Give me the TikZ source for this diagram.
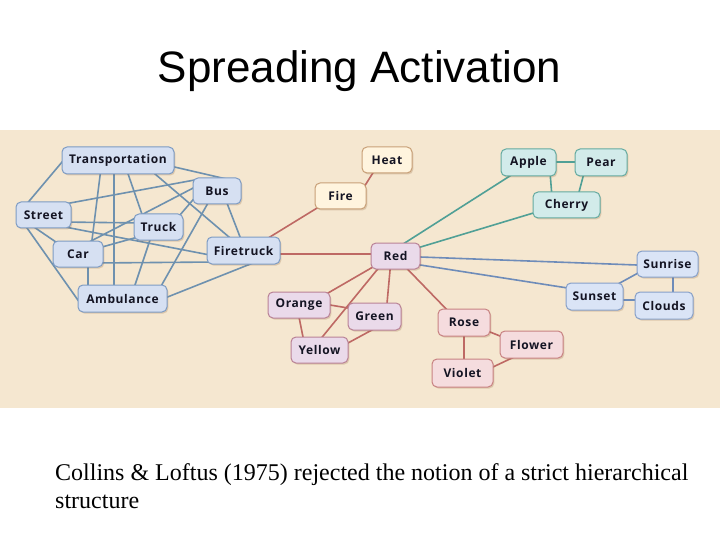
\documentclass[tikz,border=0pt]{standalone}
\usepackage{fontspec}
\setmainfont{Liberation Serif}
\newfontfamily\titlefont{Liberation Sans}
\newfontfamily\nodefont[LetterSpace=5]{Open Sans}
\usetikzlibrary{shadows}
\definecolor{band}{RGB}{245,231,208}
\definecolor{lnblue}{RGB}{110,145,175}
\definecolor{lnred}{RGB}{190,105,100}
\definecolor{lnteal}{RGB}{80,160,150}
\definecolor{lnsky}{RGB}{110,140,185}
\definecolor{fillblue}{RGB}{214,224,242}
\definecolor{drawblue}{RGB}{125,155,195}
\definecolor{fillcream}{RGB}{255,244,222}
\definecolor{drawcream}{RGB}{200,160,120}
\definecolor{fillteal}{RGB}{210,235,234}
\definecolor{drawteal}{RGB}{100,170,160}
\definecolor{filllav}{RGB}{234,218,234}
\definecolor{drawlav}{RGB}{185,130,150}
\definecolor{fillpink}{RGB}{245,220,222}
\definecolor{drawpink}{RGB}{200,130,130}
\definecolor{fillsky}{RGB}{218,228,246}
\definecolor{drawsky}{RGB}{135,160,200}
\definecolor{txt}{RGB}{20,20,35}
\pgfdeclarelayer{bg}
\pgfdeclarelayer{edges}
\pgfsetlayers{bg,edges,main}
\tikzset{
  box/.style={rounded corners=5pt, line width=1pt, minimum height=26pt, inner sep=0pt,
    text=txt, font=\nodefont\bfseries\fontsize{12}{14}\selectfont,
    drop shadow={shadow xshift=1.3pt, shadow yshift=-1.5pt, opacity=0.22, fill=brown!70!black}},
  bbox/.style={box, fill=fillblue, draw=drawblue},
  cbox/.style={box, fill=fillcream, draw=drawcream},
  tbox/.style={box, fill=fillteal, draw=drawteal},
  lbox/.style={box, fill=filllav, draw=drawlav},
  pbox/.style={box, fill=fillpink, draw=drawpink},
  sbox/.style={box, fill=fillsky, draw=drawsky},
  eblue/.style={draw=lnblue, line width=1.6pt},
  ered/.style={draw=lnred, line width=1.6pt},
  eteal/.style={draw=lnteal, line width=1.6pt},
  esky/.style={draw=lnsky, line width=1.6pt},
}
\begin{document}
\begin{tikzpicture}[x=1pt,y=-1pt]
\useasboundingbox (0,0) rectangle (720,540);
\begin{pgfonlayer}{bg}
\fill[white] (0,0) rectangle (720,540);
\fill[band] (0,130) rectangle (720,408);
\end{pgfonlayer}
\node[anchor=base, font=\titlefont\fontsize{44}{50}\selectfont] (title) at (359.5,83) {Spreading Activation};
\node[anchor=base west, font=\fontsize{24}{28}\selectfont, inner sep=0pt] (cap1) at (55,480) {Collins \& Loftus (1975) rejected the notion of a strict hierarchical};
\node[anchor=base west, font=\fontsize{24}{28}\selectfont, inner sep=0pt] (cap2) at (55,508) {structure};
% nodes
\node[bbox, minimum width=112pt, minimum height=27pt] (T) at (118,160.5) {Transportation};
\node[bbox, minimum width=48pt] (B) at (217,191) {Bus};
\node[bbox, minimum width=55pt] (S) at (43.5,215) {Street};
\node[bbox, minimum width=49pt] (K) at (158.5,227) {Truck};
\node[bbox, minimum width=50pt] (C) at (78,254) {Car};
\node[bbox, minimum width=73pt, minimum height=27pt] (F) at (243.5,250.5) {Firetruck};
\node[bbox, minimum width=89pt, minimum height=27pt] (A) at (122.5,298.5) {Ambulance};
\node[cbox, minimum width=50pt] (He) at (387,160) {Heat};
\node[cbox, minimum width=51pt] (Fi) at (340.5,196) {Fire};
\node[tbox, minimum width=55pt, minimum height=27pt] (Ap) at (528.5,162.5) {Apple};
\node[tbox, minimum width=52pt, minimum height=27pt] (Pe) at (601,162.5) {Pear};
\node[tbox, minimum width=67pt] (Ch) at (566.5,205) {Cherry};
\node[lbox, minimum width=49pt] (R) at (395.5,256) {Red};
\node[sbox, minimum width=61pt] (Sr) at (667.5,264) {Sunrise};
\node[sbox, minimum width=57pt, minimum height=27pt] (Ss) at (594.5,296.5) {Sunset};
\node[sbox, minimum width=58pt, minimum height=27pt] (Cl) at (664,305.5) {Clouds};
\node[lbox, minimum width=62pt] (Or) at (299,305) {Orange};
\node[lbox, minimum width=53pt, minimum height=27pt] (Gr) at (374.5,316.5) {Green};
\node[lbox, minimum width=57pt] (Ye) at (319.5,350) {Yellow};
\node[pbox, minimum width=52pt, minimum height=27pt] (Ro) at (464,322.5) {Rose};
\node[pbox, minimum width=63pt, minimum height=27pt] (Fl) at (531.5,344.5) {Flower};
\node[pbox, minimum width=61pt, minimum height=28pt] (Vi) at (462.5,373) {Violet};
% edges
\begin{pgfonlayer}{edges}
\draw[eblue] ([shift={(-53,-2)}]T.center) -- ([shift={(-18.5,-9)}]S.center);
\draw[eblue] ([shift={(50,5)}]T.center) -- ([shift={(18,-10)}]B.center);
\draw[eblue] ([shift={(-17,7.5)}]T.center) -- ([shift={(13,-6)}]C.center);
\draw[eblue] ([shift={(-4,7.5)}]T.center) -- ([shift={(-8.5,-6.5)}]A.center);
\draw[eblue] ([shift={(8,7.5)}]T.center) -- ([shift={(-14.5,-7)}]K.center);
\draw[eblue] ([shift={(30,7.5)}]T.center) -- ([shift={(-7.5,-7.5)}]F.center);
\draw[eblue] ([shift={(18.5,-10.5)}]S.center) -- ([shift={(-17,-12)}]B.center);
\draw[eblue] ([shift={(-18,-6)}]B.center) -- ([shift={(10,-11.4)}]C.center);
\draw[eblue] ([shift={(16.5,7)}]S.center) -- ([shift={(-13.5,-4)}]K.center);
\draw[eblue] ([shift={(18.5,11.4)}]S.center) -- ([shift={(-27.5,5.7)}]F.center);
\draw[eblue] ([shift={(-12.5,10)}]S.center) -- ([shift={(-17,-8.5)}]C.center);
\draw[eblue] ([shift={(-19.5,8.7)}]S.center) -- ([shift={(-38.5,10.2)}]A.center);
\draw[eblue] ([shift={(-14.5,8.3)}]K.center) -- ([shift={(18,-5.3)}]C.center);
\draw[eblue] ([shift={(-6.5,7)}]K.center) -- ([shift={(10.5,-7.5)}]A.center);
\draw[eblue] ([shift={(-19,3)}]B.center) -- ([shift={(17.5,-7.4)}]K.center);
\draw[eblue] ([shift={(-6,6.7)}]B.center) -- ([shift={(34.5,-5.2)}]A.center);
\draw[eblue] ([shift={(8,7)}]B.center) -- ([shift={(-1.5,-8.5)}]F.center);
\draw[eblue] ([shift={(17,9)}]C.center) -- ([shift={(-26.5,11.5)}]F.center);
\draw[eblue] ([shift={(10,8)}]C.center) -- ([shift={(-34.5,-6.5)}]A.center);
\draw[eblue] ([shift={(10.5,12.1)}]F.center) -- ([shift={(37.5,1.5)}]A.center);
\draw[ered] ([shift={(21.5,-10.5)}]F.center) -- ([shift={(-18.5,9)}]Fi.center);
\draw[ered] ([shift={(28.5,3.5)}]F.center) -- ([shift={(-17.5,-2)}]R.center);
\draw[ered] ([shift={(18.5,-1)}]Fi.center) -- ([shift={(-11,8)}]He.center);
\draw[eteal] ([shift={(4.5,-10)}]R.center) -- ([shift={(-15.5,11.5)}]Ap.center);
\draw[eteal] ([shift={(18.5,-7)}]R.center) -- ([shift={(-26.5,6)}]Ch.center);
\draw[eteal] ([shift={(21.5,-0.5)}]Ap.center) -- ([shift={(-21,-0.5)}]Pe.center);
\draw[eteal] ([shift={(21.5,9.5)}]Ap.center) -- ([shift={(-14.5,-8)}]Ch.center);
\draw[eteal] ([shift={(-16.7,9.5)}]Pe.center) -- ([shift={(11.2,-8)}]Ch.center);
\draw[esky] ([shift={(16.5,0.7)}]R.center) -- ([shift={(-22.5,1.3)}]Sr.center);
\draw[esky] ([shift={(16.5,7.7)}]R.center) -- ([shift={(-20.5,-7.5)}]Ss.center);
\draw[esky] ([shift={(17.5,-9.2)}]Ss.center) -- ([shift={(-22.5,5.2)}]Sr.center);
\draw[esky] ([shift={(20.5,3.5)}]Ss.center) -- ([shift={(-19,-5.5)}]Cl.center);
\draw[esky] ([shift={(5.5,8)}]Sr.center) -- ([shift={(9,-7.5)}]Cl.center);
\draw[ered] ([shift={(-16.5,7.5)}]R.center) -- ([shift={(23,-8.5)}]Or.center);
\draw[ered] ([shift={(-14.5,9)}]R.center) -- ([shift={(-0.5,-9)}]Ye.center);
\draw[ered] ([shift={(-5,9)}]R.center) -- ([shift={(12,-7.5)}]Gr.center);
\draw[ered] ([shift={(8.5,9.5)}]R.center) -- ([shift={(-12,-7.5)}]Ro.center);
\draw[ered] ([shift={(23,-1.3)}]Or.center) -- ([shift={(-18.5,-7.2)}]Gr.center);
\draw[ered] ([shift={(-1,7)}]Or.center) -- ([shift={(-15.5,-8)}]Ye.center);
\draw[ered] ([shift={(3.5,10.2)}]Gr.center) -- ([shift={(21.5,-3.2)}]Ye.center);
\draw[ered] ([shift={(0,7.5)}]Ro.center) -- ([shift={(1.5,-8)}]Vi.center);
\draw[ered] ([shift={(20,7.1)}]Ro.center) -- ([shift={(-24.5,-5.7)}]Fl.center);
\draw[ered] ([shift={(-13.5,10.7)}]Fl.center) -- ([shift={(24.5,-3.2)}]Vi.center);
\end{pgfonlayer}
\end{tikzpicture}
\end{document}
